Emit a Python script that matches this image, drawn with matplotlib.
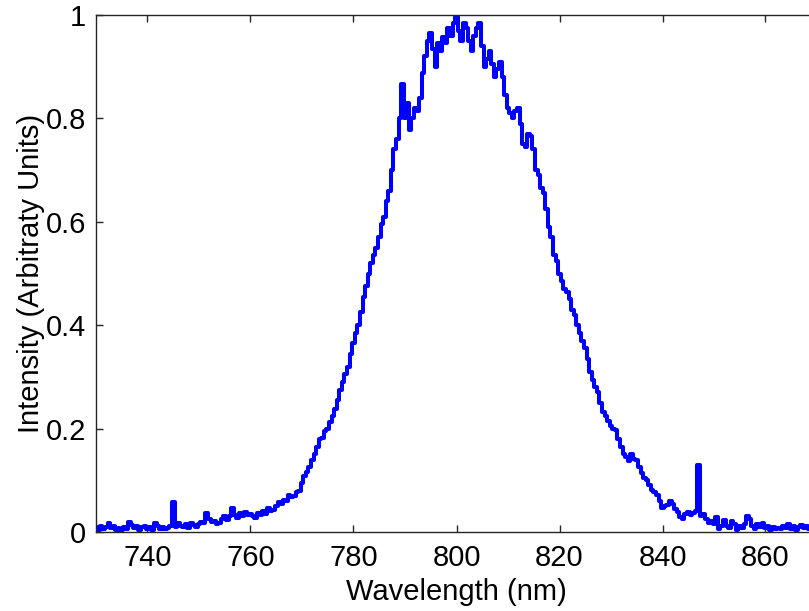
import numpy as np
import matplotlib
matplotlib.use('Agg')
import matplotlib.pyplot as plt

# spectrum sampled every 0.5 nm from 730 to 870 nm
wl_start = 730.0
wl_step = 0.5
intensity = [
    0.010, 0.003, 0.012, 0.006, 0.010, 0.017, 0.008, 0.012, 0.004, 0.008,  # 730
    0.004, 0.010, 0.006, 0.020, 0.014, 0.008, 0.012, 0.004, 0.009, 0.012,  # 735
    0.006, 0.010, 0.004, 0.017, 0.012, 0.005, 0.010, 0.005, 0.008, 0.012,  # 740
    0.058, 0.010, 0.017, 0.012, 0.010, 0.016, 0.008, 0.017, 0.013, 0.010,  # 745
    0.015, 0.020, 0.018, 0.037, 0.025, 0.020, 0.022, 0.015, 0.017, 0.025,  # 750
    0.030, 0.024, 0.030, 0.046, 0.032, 0.028, 0.036, 0.030, 0.039, 0.032,  # 755
    0.034, 0.030, 0.027, 0.036, 0.032, 0.040, 0.035, 0.046, 0.040, 0.042,  # 760
    0.050, 0.058, 0.055, 0.062, 0.060, 0.072, 0.068, 0.070, 0.078, 0.080,  # 765
    0.095, 0.108, 0.116, 0.125, 0.140, 0.150, 0.165, 0.180, 0.182, 0.195,  # 770
    0.200, 0.212, 0.225, 0.238, 0.255, 0.275, 0.290, 0.305, 0.320, 0.345,  # 775
    0.365, 0.385, 0.400, 0.425, 0.455, 0.475, 0.500, 0.520, 0.535, 0.550,  # 780
    0.570, 0.595, 0.610, 0.640, 0.660, 0.700, 0.740, 0.760, 0.800, 0.867,  # 785
    0.800, 0.830, 0.777, 0.800, 0.820, 0.815, 0.840, 0.888, 0.920, 0.950,  # 790
    0.965, 0.935, 0.900, 0.945, 0.930, 0.957, 0.945, 0.975, 0.960, 0.985,  # 795
    0.996, 0.970, 0.950, 0.985, 0.975, 0.950, 0.930, 0.960, 0.975, 0.985,  # 800
    0.940, 0.900, 0.915, 0.930, 0.905, 0.880, 0.895, 0.910, 0.880, 0.845,  # 805
    0.820, 0.810, 0.800, 0.815, 0.820, 0.790, 0.750, 0.745, 0.770, 0.765,  # 810
    0.740, 0.700, 0.690, 0.665, 0.655, 0.625, 0.590, 0.570, 0.535, 0.525,  # 815
    0.500, 0.485, 0.470, 0.465, 0.450, 0.430, 0.420, 0.400, 0.385, 0.370,  # 820
    0.355, 0.335, 0.310, 0.294, 0.280, 0.270, 0.250, 0.232, 0.225, 0.215,  # 825
    0.205, 0.200, 0.197, 0.180, 0.165, 0.150, 0.145, 0.138, 0.150, 0.142,  # 830
    0.139, 0.125, 0.115, 0.105, 0.100, 0.090, 0.082, 0.078, 0.072, 0.060,  # 835
    0.046, 0.050, 0.052, 0.060, 0.055, 0.045, 0.038, 0.029, 0.025, 0.035,  # 840
    0.038, 0.032, 0.037, 0.040, 0.130, 0.030, 0.035, 0.025, 0.018, 0.022,  # 845
    0.015, 0.029, 0.006, 0.012, 0.024, 0.012, 0.008, 0.022, 0.015, 0.004,  # 850
    0.012, 0.008, 0.015, 0.030, 0.025, 0.012, 0.006, 0.015, 0.010, 0.018,  # 855
    0.008, 0.012, 0.004, 0.010, 0.006, 0.008, 0.005, 0.012, 0.008, 0.016,  # 860
    0.006, 0.012, 0.004, 0.010, 0.014, 0.008, 0.012, 0.006, 0.010, 0.008,  # 865
    0.010,                                                                  # 870
]
wavelength = wl_start + wl_step * np.arange(len(intensity))

x_ticks = [740, 760, 780, 800, 820, 840, 860]
y_ticks = [0, 0.2, 0.4, 0.6, 0.8, 1]
y_tick_labels = ['0', '0.2', '0.4', '0.6', '0.8', '1']

plt.rcParams['font.family'] = ['Liberation Sans', 'DejaVu Sans']

fig = plt.figure(figsize=(8.09, 6.11), dpi=100)
ax = fig.add_axes([96 / 809, 79 / 611, 721 / 809, 517 / 611])
ax.plot(wavelength, intensity, color=(0, 0, 1), linewidth=2.9,
        drawstyle='steps-mid')

ax.set_xlim(730, 870)
ax.set_ylim(0, 1)
ax.set_xticks(x_ticks)
ax.set_yticks(y_ticks)
ax.set_yticklabels(y_tick_labels)
ax.tick_params(direction='in', length=5, width=1, top=True, right=True,
               labelsize=21, color='#262626')
ax.tick_params(axis='x', pad=9)
ax.tick_params(axis='y', pad=7)
for s in ax.spines.values():
    s.set_color('#262626')
    s.set_linewidth(1)

ax.set_xlabel('Wavelength (nm)', fontsize=21, labelpad=4)
ax.set_ylabel('Intensity (Arbitraty Units)', fontsize=21, labelpad=1)

fig.savefig('out.png', dpi=100)
